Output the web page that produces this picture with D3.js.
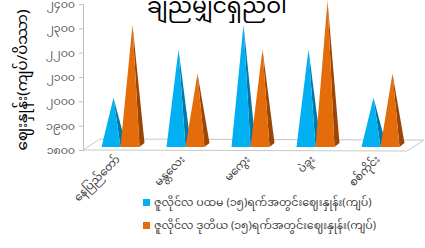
<!DOCTYPE html>
<meta charset="utf-8">
<script src="https://d3js.org/d3.v7.min.js"></script>
<style>
  body { margin: 0; background: #fff; }
  text { font-family: "Noto Sans Myanmar", "Padauk", "Myanmar Text", "Noto Sans", sans-serif; }
</style>
<div id="my_dataviz"></div>
<script>
// data
var categories = ["နေပြည်တော်", "မန္တလေး", "မကွေး", "ပဲခူး", "စစ်ကိုင်း"];
var firstHalf  = [2000, 2200, 2300, 2200, 2000];
var secondHalf = [2300, 2100, 2200, 2400, 2100];
var tickValues = [1800, 1900, 2000, 2100, 2200, 2300, 2400];
var tickLabels = ["၁၈၀၀", "၁၉၀၀", "၂၀၀၀", "၂၁၀၀", "၂၂၀၀", "၂၃၀၀", "၂၄၀၀"];
var seriesNames = ["ဇူလိုင်လ ပထမ (၁၅)ရက်အတွင်းဈေးနှုန်း(ကျပ်)",
                   "ဇူလိုင်လ ဒုတိယ (၁၅)ရက်အတွင်းဈေးနှုန်း(ကျပ်)"];
var title = "ချည်မျှင်ရှည်ဝါ";
var yTitle = "ဈေးနှုန်း(ကျပ်/ပိဿာ)";

var width = 425, height = 248;
var colors = ["#00B0F0", "#E46C0A"];
var darkColors = ["#0078A8", "#9C4606"];

var svg = d3.select("#my_dataviz")
  .append("svg")
    .attr("width", width)
    .attr("height", height);

// scales
var x = d3.scaleBand()
  .domain(categories)
  .range([88, 413]);

var y = d3.scaleLinear()
  .domain([1800, 2400])
  .range([150, 4]);

// floor
var floorDx = 17, floorDy = -11;
svg.append("path")
  .attr("d", "M83,150 L407,151 L" + (407 + floorDx) + "," + (151 + floorDy) +
             " L" + (83 + floorDx) + "," + (150 + floorDy) + " Z")
  .attr("fill", "#fff")
  .attr("stroke", "#c8c8c8")
  .attr("stroke-width", 1);

// y axis
var yAxis = svg.append("g")
  .attr("transform", "translate(83,0)")
  .call(d3.axisLeft(y).tickValues(tickValues).tickSize(4)
    .tickFormat(function(d, i) { return tickLabels[i]; }));
yAxis.select(".domain").attr("stroke", "#bfbfbf");
yAxis.selectAll(".tick line").attr("stroke", "#bfbfbf");
yAxis.selectAll(".tick text")
  .attr("fill", "#595959")
  .style("font-size", "11px")
  .attr("x", -8);

// pyramids
var faceW = 19, depthX = 5, depthY = -4;
var baseY = 147;
function pyramid(g, cx, v, s) {
  var x0 = cx - faceW / 2, x1 = cx + faceW / 2;
  var ay = y(v) - 3.5, ax = cx + depthX / 2;
  // side face
  g.append("path")
    .attr("d", "M" + x1 + "," + baseY + " L" + (x1 + depthX) + "," + (baseY + depthY) +
               " L" + ax + "," + ay + " Z")
    .attr("fill", darkColors[s]);
  // front face
  g.append("path")
    .attr("d", "M" + x0 + "," + baseY + " L" + x1 + "," + baseY + " L" + ax + "," + ay + " Z")
    .attr("fill", colors[s]);
}

var bars = svg.append("g");
categories.forEach(function(c, i) {
  var center = x(c) + x.bandwidth() / 2;
  pyramid(bars, center - faceW / 2, firstHalf[i], 0);
  pyramid(bars, center + faceW / 2, secondHalf[i], 1);
});

// category labels
svg.append("g").selectAll("text")
  .data(categories)
  .enter()
  .append("text")
    .attr("transform", function(d) {
      return "translate(" + (x(d) + x.bandwidth() / 2) + ",160) rotate(-45)";
    })
    .attr("text-anchor", "end")
    .attr("fill", "#404040")
    .style("font-size", "11px")
    .text(function(d) { return d; });

// title
svg.append("text")
  .attr("x", 217)
  .attr("y", 13)
  .attr("text-anchor", "middle")
  .attr("fill", "#000")
  .style("font-size", "22px")
  .text(title);

// y title
svg.append("text")
  .attr("transform", "translate(27,80) rotate(-90)")
  .attr("text-anchor", "middle")
  .attr("fill", "#000")
  .style("font-size", "15px")
  .text(yTitle);

// legend
var legend = svg.append("g").selectAll("g")
  .data(seriesNames)
  .enter()
  .append("g")
    .attr("transform", function(d, i) { return "translate(143," + (199 + i * 23) + ")"; });
legend.append("rect")
  .attr("width", 7).attr("height", 7)
  .attr("fill", function(d, i) { return colors[i]; });
legend.append("text")
  .attr("x", 11).attr("y", 7)
  .attr("fill", "#404040")
  .style("font-size", "11px")
  .text(function(d) { return d; });
</script>
